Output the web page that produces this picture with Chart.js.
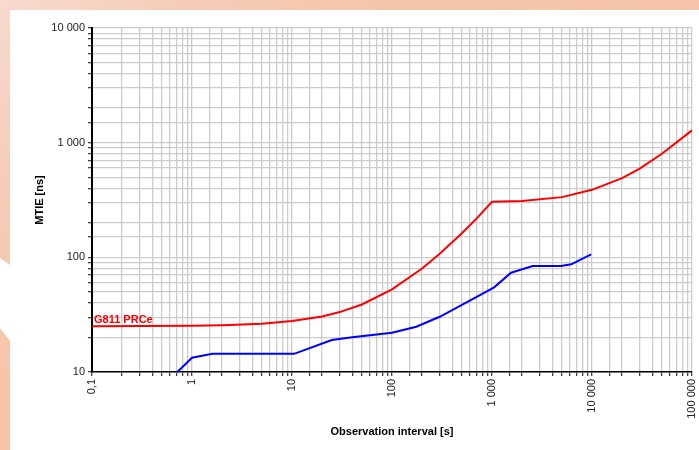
<!DOCTYPE html>
<html>
<head>
<meta charset="utf-8">
<script src="https://cdn.jsdelivr.net/npm/chart.js@4.4.1/dist/chart.umd.min.js"></script>
<style>
  html, body { margin:0; padding:0; }
  body { width:699px; height:450px; position:relative; overflow:hidden;
         background: linear-gradient(135deg, #f8dacf 0%, #f6cbb6 18%, #f5c5a9 35%, #f5c3aa 100%); }
  #panel { position:absolute; left:10px; top:10px; right:0; bottom:0; background:#fff; }
  #notch { position:absolute; left:0; top:0; width:10px; height:450px; background:#fff;
           clip-path: polygon(0px 258px, 10px 265px, 10px 341px, 0px 328px); }
  #wrap { position:absolute; left:0; top:0; width:699px; height:450px; }
</style>
</head>
<body>
<div id="panel"></div>
<div id="notch"></div>
<div id="wrap"><canvas id="c" width="699" height="450"></canvas></div>
<script>
// Observation interval (s) and MTIE values (ns)
const maskTau = [0.1, 1, 2, 5, 10, 20, 30, 50, 100, 200, 300, 500, 700, 1000, 2000, 5000, 10000, 20000, 30000, 50000, 100000];
const maskMtie = [25, 25.3, 25.6, 26.4, 27.8, 30.5, 33.3, 38.8, 52.5, 80, 107.5, 162.5, 217.5, 305, 310, 335, 388, 490, 595, 800, 1280];

const measTau = [0.5, 1, 1.6, 10.5, 25, 40, 100, 175, 300, 600, 1050, 1550, 2550, 4900, 6200, 9800];
const measMtie = [7.4, 13.3, 14.4, 14.4, 19, 20.1, 22, 24.8, 30.3, 41.9, 54.7, 73.4, 84, 84, 86.9, 106];

const maskLabel = 'G811 PRCe';
const xTitle = 'Observation interval [s]';
const yTitle = 'MTIE [ns]';

function toPts(xs, ys) { return xs.map((x, i) => ({x: x, y: ys[i]})); }

function fmt(v) {
  const l = Math.log10(v);
  if (Math.abs(l - Math.round(l)) > 1e-6) return '';
  const p = Math.round(l);
  if (p < 0) return '0,' + '0'.repeat(-p - 1) + '1';
  const s = String(Math.round(Math.pow(10, p)));
  return s.replace(/\B(?=(\d{3})+(?!\d))/g, ' ');
}

const labelPlugin = {
  id: 'maskLabel',
  afterDatasetsDraw(chart) {
    const {ctx, scales: {x, y}} = chart;
    ctx.save();
    ctx.font = 'bold 11px "Liberation Sans", Arial, sans-serif';
    ctx.fillStyle = '#ff0000';
    ctx.textBaseline = 'alphabetic';
    ctx.fillText(maskLabel, x.getPixelForValue(maskTau[0]) + 2, y.getPixelForValue(maskMtie[0]) - 3);
    ctx.restore();
  }
};

const font = {family: '"Liberation Sans", Arial, sans-serif', size: 11};

new Chart(document.getElementById('c'), {
  type: 'line',
  data: {
    datasets: [
      {label: maskLabel, data: toPts(maskTau, maskMtie), borderColor: '#ff0000', borderWidth: 2, pointRadius: 0, tension: 0, fill: false},
      {label: 'measurement', data: toPts(measTau, measMtie), borderColor: '#0000ff', borderWidth: 2, pointRadius: 0, tension: 0, fill: false}
    ]
  },
  options: {
    responsive: false,
    animation: false,
    devicePixelRatio: 1,
    layout: {padding: {left: 0, top: 28, right: 7, bottom: 0}},
    plugins: {legend: {display: false}, tooltip: {enabled: false}},
    scales: {
      x: {
        type: 'logarithmic', min: 0.1, max: 100000,
        afterFit(s) { s.height = 78; s.paddingRight = 0; s.paddingLeft = 0; },
        border: {display: true, color: '#000', width: 1.5},
        grid: {color: '#cccccc', lineWidth: 1.3, tickLength: 4, tickColor: '#444'},
        ticks: {autoSkip: false, minRotation: 90, maxRotation: 90, padding: 3, color: '#222', font: font, callback: (v) => fmt(v)},
        title: {display: true, text: xTitle, color: '#000', font: {family: font.family, size: 11, weight: 'bold'}, padding: {top: 0, bottom: 11}}
      },
      y: {
        type: 'logarithmic', min: 10, max: 10000,
        afterFit(s) { s.width = 92; s.paddingTop = 0; s.paddingBottom = 0; },
        border: {display: true, color: '#000', width: 2},
        grid: {color: '#cccccc', lineWidth: 1.3, tickLength: 4, tickColor: '#444'},
        ticks: {autoSkip: false, padding: 3, color: '#222', font: font, callback: (v) => fmt(v)},
        title: {display: true, text: yTitle, color: '#000', font: {family: font.family, size: 11, weight: 'bold'}, padding: {top: 33, bottom: 0}}
      }
    }
  },
  plugins: [labelPlugin]
});
</script>
</body>
</html>
